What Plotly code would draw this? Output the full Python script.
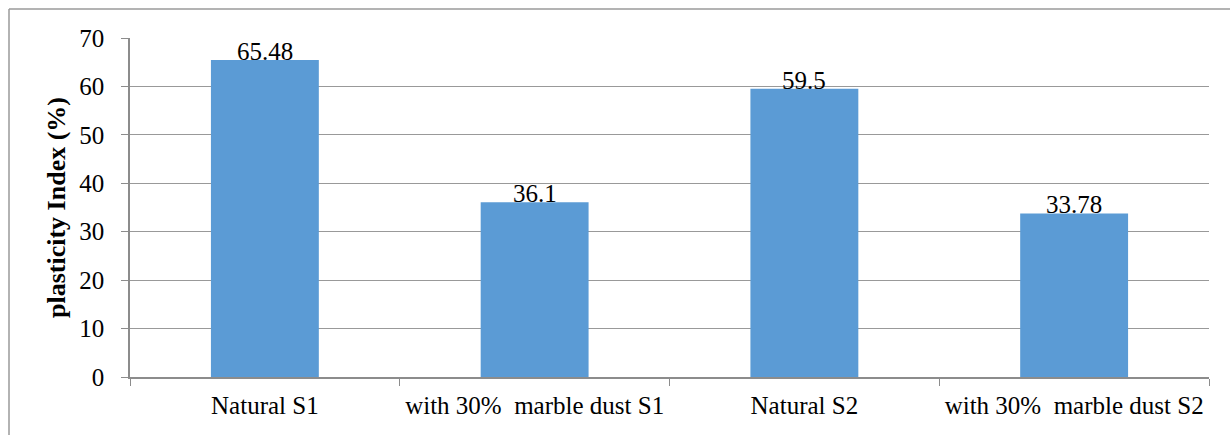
import plotly.graph_objects as go

categories = ["Natural S1", "with 30%  marble dust S1", "Natural S2", "with 30%  marble dust S2"]
values = [65.48, 36.1, 59.5, 33.78]
value_labels = ["65.48", "36.1", "59.5", "33.78"]
y_ticks = [0, 10, 20, 30, 40, 50, 60, 70]

W, H = 1230, 435
ML, MR, MT, MB = 130, 21, 38, 58
FONT = "Times New Roman, Liberation Serif, Times, serif"

fig = go.Figure()
fig.add_trace(go.Bar(
    x=categories, y=values, width=0.4,
    marker=dict(color="#5B9BD5", line=dict(width=0)),
    hoverinfo="skip",
))

for c, v, t in zip(categories, values, value_labels):
    fig.add_annotation(x=c, y=v, text=t, showarrow=False, yanchor="bottom",
                       yshift=-7, font=dict(family=FONT, size=25, color="#000"))

pw = W - ML - MR
ph = H - MT - MB
bx = (9 - ML) / pw
by = (H - MB - 9) / ph
fig.add_shape(type="line", xref="paper", yref="paper", x0=bx, x1=(W + 20 - ML) / pw,
              y0=by, y1=by, line=dict(color="#9a9a9a", width=1.5))
fig.add_shape(type="line", xref="paper", yref="paper", x0=bx, x1=bx,
              y0=by, y1=-(MB + 20) / ph, line=dict(color="#9a9a9a", width=1.5))

fig.update_layout(
    width=W, height=H,
    margin=dict(l=ML, r=MR, t=MT, b=MB, pad=0),
    paper_bgcolor="white", plot_bgcolor="white",
    showlegend=False,
    font=dict(family=FONT, color="#000"),
    xaxis=dict(
        type="category", range=[-0.5, 3.5],
        tickson="boundaries", ticks="outside", ticklen=7, tickcolor="#8c8c8c", tickwidth=1,
        showline=True, linecolor="#8c8c8c", linewidth=1.5,
        showgrid=False, tickfont=dict(family=FONT, size=25, color="#000"),
        ticklabelstandoff=5,
    ),
    yaxis=dict(
        range=[0, 70], tickvals=y_ticks, ticks="outside", ticklen=7,
        tickcolor="#8c8c8c", showline=True, linecolor="#8c8c8c", linewidth=1.5,
        showgrid=True, gridcolor="#999999", gridwidth=1, zeroline=False,
        tickfont=dict(family=FONT, size=25, color="#000"),
        ticklabelstandoff=12,
        title=dict(text="<b>plasticity Index (%)</b>", font=dict(family=FONT, size=26, color="#000"), standoff=6),
    ),
)

fig.write_html("out.html")
